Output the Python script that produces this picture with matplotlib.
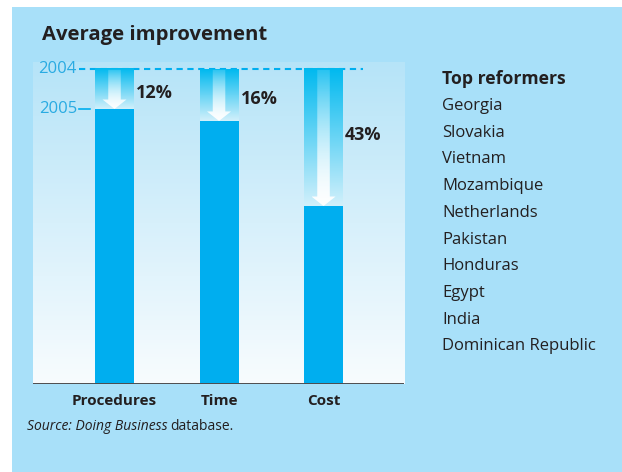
import numpy as np
import matplotlib
matplotlib.use("Agg")
import matplotlib.pyplot as plt
from matplotlib.colors import LinearSegmentedColormap
from matplotlib.patches import Polygon, Rectangle

# ── data
categories = ["Procedures", "Time", "Cost"]
base_2004 = 100                       # 2004 index level
level_2005 = [87.3, 83.5, 56.5]       # 2005 level
improvement_labels = ["12%", "16%", "43%"]
reformers = ["Georgia", "Slovakia", "Vietnam", "Mozambique", "Netherlands",
             "Pakistan", "Honduras", "Egypt", "India", "Dominican Republic"]

# ── style
plt.rcParams['font.family'] = ['Open Sans', 'DejaVu Sans']
BG = "#a8e0f9"
BAR = "#00aeef"
TXT = "#231f20"
AXBLUE = "#29abe2"
label_frac = [0.6, 0.58, 0.48]        # where the % label sits down the drop

fig = plt.figure(figsize=(6.22, 4.72), dpi=100, facecolor=BG)
# white strips top and left
fig.patches.append(Rectangle((0, 1 - 7 / 472), 1, 7 / 472, transform=fig.transFigure,
                             facecolor="white", edgecolor="none", zorder=-10))
fig.patches.append(Rectangle((0, 0), 12 / 622, 1, transform=fig.transFigure,
                             facecolor="white", edgecolor="none", zorder=-10))

X0, X1, Y1 = -0.78, 2.77, 102.2
ax = fig.add_axes([33 / 622, (472 - 384) / 472, (404 - 33) / 622, (384 - 62) / 472])
ax.patch.set_alpha(0)
for s in ax.spines.values():
    s.set_visible(False)

# background gradient (light blue top -> white bottom)
bg_cmap = LinearSegmentedColormap.from_list("bg", ["#f8fcfe", "#b6e4f8"])
grad = np.linspace(0, 1, 256).reshape(-1, 1)
ax.imshow(grad, cmap=bg_cmap, origin="lower", aspect="auto",
          extent=[X0, X1, 0, Y1], zorder=0)

w = 0.373
x = np.arange(len(categories))
ax.bar(x, level_2005, width=w, color=BAR, zorder=2)

seg_cmap = LinearSegmentedColormap.from_list("seg", ["#d2f0fb", "#00b9ef"])
white = np.ones((256, 1, 4))
white[:, 0, 3] = np.linspace(1.0, 0.15, 256)   # opaque at bottom, faint at top

shaft = 0.12
head = 0.23
head_len = 3.0
for xi, lv, lab, fr in zip(x, level_2005, improvement_labels, label_frac):
    # gradient segment between 2005 level and 2004 level
    ax.imshow(grad, cmap=seg_cmap, origin="lower", aspect="auto",
              extent=[xi - w / 2, xi + w / 2, lv, base_2004], zorder=2)
    # arrow
    top = base_2004 - 0.3
    pts = [(xi - shaft / 2, top), (xi + shaft / 2, top),
           (xi + shaft / 2, lv + head_len), (xi + head / 2, lv + head_len),
           (xi, lv), (xi - head / 2, lv + head_len), (xi - shaft / 2, lv + head_len)]
    arrow = Polygon(pts, closed=True, transform=ax.transData, facecolor="none", edgecolor="none")
    ax.add_patch(arrow)
    im = ax.imshow(white, origin="lower", aspect="auto",
                   extent=[xi - head / 2, xi + head / 2, lv, top], zorder=3)
    im.set_clip_path(arrow)
    ax.text(xi + w / 2 + 0.02, base_2004 - fr * (base_2004 - lv), lab, ha="left", va="center",
            fontsize=13, fontweight="bold", color=TXT, zorder=4)

ax.set_xlim(X0, X1)
ax.set_ylim(0, Y1)

# 2004 dashed line and 2005 tick
ax.plot([-0.34, 2.38], [base_2004, base_2004], color=BAR, lw=1.5, dashes=(3, 2.2), zorder=1)
ax.plot([-0.34, -0.23], [level_2005[0], level_2005[0]], color=BAR, lw=1.2, zorder=1)
ax.text(-0.36, base_2004, "2004", ha="right", va="center", fontsize=12, color=AXBLUE)
ax.text(-0.36, level_2005[0], "2005", ha="right", va="center", fontsize=12, color=AXBLUE)

ax.axhline(0, color="#4d4d4f", lw=1.4, zorder=5)
ax.set_yticks([])
ax.set_xticks(x, categories)
ax.tick_params(axis="x", length=0, pad=7, labelsize=11, labelcolor=TXT)
for t in ax.get_xticklabels():
    t.set_fontweight("bold")

# title, list and source
fig.text(42 / 622, 1 - 35 / 472, "Average improvement", ha="left", va="center",
         fontsize=14.6, fontweight="bold", color=TXT)
fig.text(442 / 622, 1 - 79 / 472, "Top reformers", ha="left", va="center",
         fontsize=12.7, fontweight="bold", color=TXT)
for i, name in enumerate(reformers):
    fig.text(442 / 622, 1 - (106 + i * 26.7) / 472, name, ha="left", va="center",
             fontsize=12, color=TXT)

src = fig.text(27 / 622, 1 - 427 / 472, "Source: Doing Business", ha="left", va="center",
               fontsize=10, style="italic", color=TXT)
fig.canvas.draw()
bb = src.get_window_extent()
fig.text((bb.x1 + 3) / 622, 1 - 427 / 472, "database.", ha="left", va="center",
         fontsize=10, color=TXT)

fig.savefig("out.png", dpi=100, facecolor=BG)
